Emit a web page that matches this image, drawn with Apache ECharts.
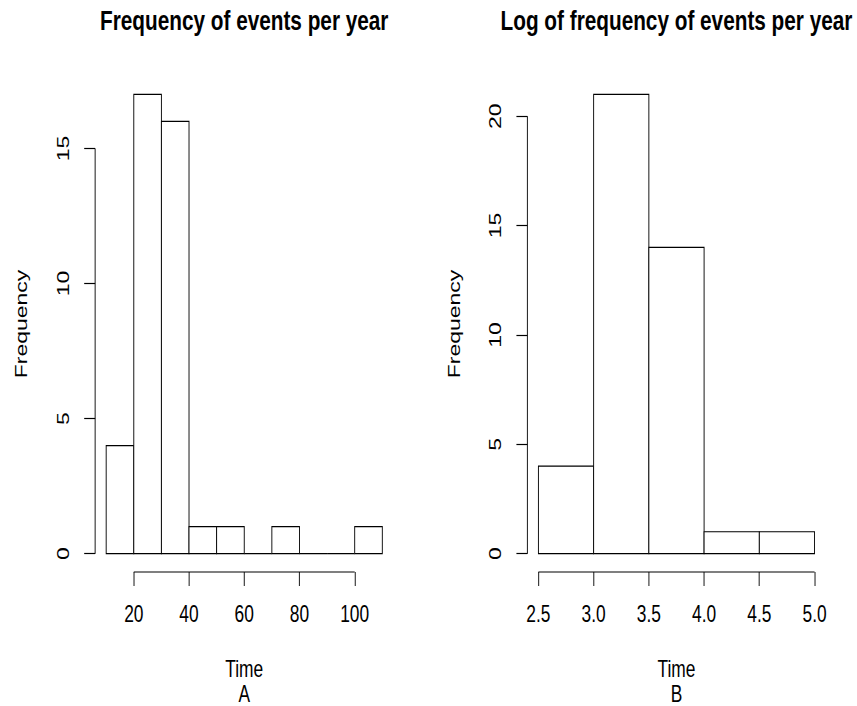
<!DOCTYPE html>
<html>
<head>
<meta charset="utf-8">
<script src="https://cdn.jsdelivr.net/npm/echarts@6/dist/echarts.min.js"></script>
<style>
html,body{margin:0;padding:0;background:#ffffff;overflow:hidden;width:857px;height:706px;}
/* The reference is an R plot rendered wider and squeezed horizontally;
   the chart is laid out at full width and narrowed the same way. */
#chart{width:1135px;height:706px;transform:scaleX(0.755);transform-origin:0 0;}
</style>
</head>
<body>
<div id="chart"></div>
<script>
// ---- Data ----
// Panel A: histogram of events per year
const titleA = 'Frequency of events per year';
const binEdgesA = [10, 20, 30, 40, 50, 60, 70, 80, 90, 100, 110];
const countsA = [4, 17, 16, 1, 1, 0, 1, 0, 0, 1];
const xTicksA = [20, 40, 60, 80, 100];
const yTicksA = [0, 5, 10, 15];
const xNameA = 'Time\nA';

// Panel B: histogram of log of events per year
const titleB = 'Log of frequency of events per year';
const binEdgesB = [2.5, 3.0, 3.5, 4.0, 4.5, 5.0];
const countsB = [4, 21, 14, 1, 1];
const xTicksB = [2.5, 3.0, 3.5, 4.0, 4.5, 5.0];
const yTicksB = [0, 5, 10, 15, 20];
const xNameB = 'Time\nB';

const yName = 'Frequency';

// ---- Styling ----
const FONT = "'Liberation Sans', Arial, Helvetica, sans-serif";
const INK = '#000000';
const LW = 1.2;

function padRange(lo, hi) {
  const p = (hi - lo) * 0.04;
  return [lo - p, hi + p];
}

function binsData(edges, counts) {
  return counts.map((c, k) => [edges[k], edges[k + 1], c]);
}

function barRenderer(params, api) {
  const p0 = api.coord([api.value(0), 0]);
  const p1 = api.coord([api.value(1), api.value(2)]);
  return {
    type: 'rect',
    shape: { x: p0[0], y: p1[1], width: p1[0] - p0[0], height: p0[1] - p1[1] },
    style: { fill: '#ffffff', stroke: INK, lineWidth: LW }
  };
}

function axisLineRenderer(xTicks, yTicks, xMin, yMin) {
  return function (params, api) {
    const a = api.coord([xTicks[0], yMin]);
    const b = api.coord([xTicks[xTicks.length - 1], yMin]);
    const c = api.coord([xMin, yTicks[0]]);
    const d = api.coord([xMin, yTicks[yTicks.length - 1]]);
    return {
      type: 'group',
      children: [
        { type: 'line', shape: { x1: a[0], y1: a[1], x2: b[0], y2: b[1] },
          style: { stroke: INK, lineWidth: LW } },
        { type: 'line', shape: { x1: c[0], y1: c[1], x2: d[0], y2: d[1] },
          style: { stroke: INK, lineWidth: LW } }
      ]
    };
  };
}

const panels = [
  { title: titleA, edges: binEdgesA, counts: countsA, xTicks: xTicksA, yTicks: yTicksA,
    xName: xNameA, fmt: v => String(v), grid: { left: 126, top: 76, width: 395, height: 496 } },
  { title: titleB, edges: binEdgesB, counts: countsB, xTicks: xTicksB, yTicks: yTicksB,
    xName: xNameB, fmt: v => Number(v).toFixed(1), grid: { left: 698.5, top: 76, width: 395, height: 496 } }
];

const option = {
  animation: false,
  backgroundColor: '#ffffff',
  title: [],
  grid: [],
  xAxis: [],
  yAxis: [],
  series: []
};

panels.forEach((p, i) => {
  const xr = padRange(p.edges[0], p.edges[p.edges.length - 1]);
  const yr = padRange(0, Math.max.apply(null, p.counts));
  option.grid.push(Object.assign({ outerBoundsMode: 'none', containLabel: false }, p.grid));
  option.title.push({
    text: p.title,
    left: p.grid.left + p.grid.width / 2,
    top: 6,
    padding: 0,
    textAlign: 'center',
    textStyle: { fontFamily: FONT, fontWeight: 'bold', fontSize: 27.5, lineHeight: 28, color: INK }
  });
  option.xAxis.push({
    gridIndex: i,
    type: 'value',
    min: xr[0],
    max: xr[1],
    axisLine: { show: false, onZero: false },
    axisTick: { show: true, customValues: p.xTicks, length: 14, lineStyle: { color: INK, width: LW } },
    axisLabel: { customValues: p.xTicks, margin: 30.5, fontSize: 23, lineHeight: 23, fontFamily: FONT,
                 color: INK, formatter: p.fmt },
    splitLine: { show: false },
    name: p.xName,
    nameLocation: 'middle',
    nameGap: 85,
    nameTextStyle: { fontSize: 23, fontFamily: FONT, color: INK, lineHeight: 24.5 }
  });
  option.yAxis.push({
    gridIndex: i,
    type: 'value',
    min: yr[0],
    max: yr[1],
    axisLine: { show: false, onZero: false },
    axisTick: { show: true, customValues: p.yTicks, length: 14.5, lineStyle: { color: INK, width: LW } },
    axisLabel: { customValues: p.yTicks, rotate: 90, margin: 31, fontSize: 23, lineHeight: 23,
                 fontFamily: FONT, color: INK, formatter: v => String(v) },
    splitLine: { show: false },
    name: yName,
    nameLocation: 'middle',
    nameRotate: 90,
    nameGap: 86,
    nameTextStyle: { fontSize: 23, lineHeight: 23, fontFamily: FONT, color: INK }
  });
  option.series.push({
    type: 'custom',
    xAxisIndex: i,
    yAxisIndex: i,
    clip: false,
    silent: true,
    renderItem: barRenderer,
    encode: { x: [0, 1], y: 2 },
    data: binsData(p.edges, p.counts)
  });
  option.series.push({
    type: 'custom',
    xAxisIndex: i,
    yAxisIndex: i,
    clip: false,
    silent: true,
    renderItem: axisLineRenderer(p.xTicks, p.yTicks, xr[0], yr[0]),
    data: [[p.xTicks[0], yr[0]]]
  });
});

const chart = echarts.init(document.getElementById('chart'), null, { renderer: 'svg' });
chart.setOption(option);
</script>
</body>
</html>
